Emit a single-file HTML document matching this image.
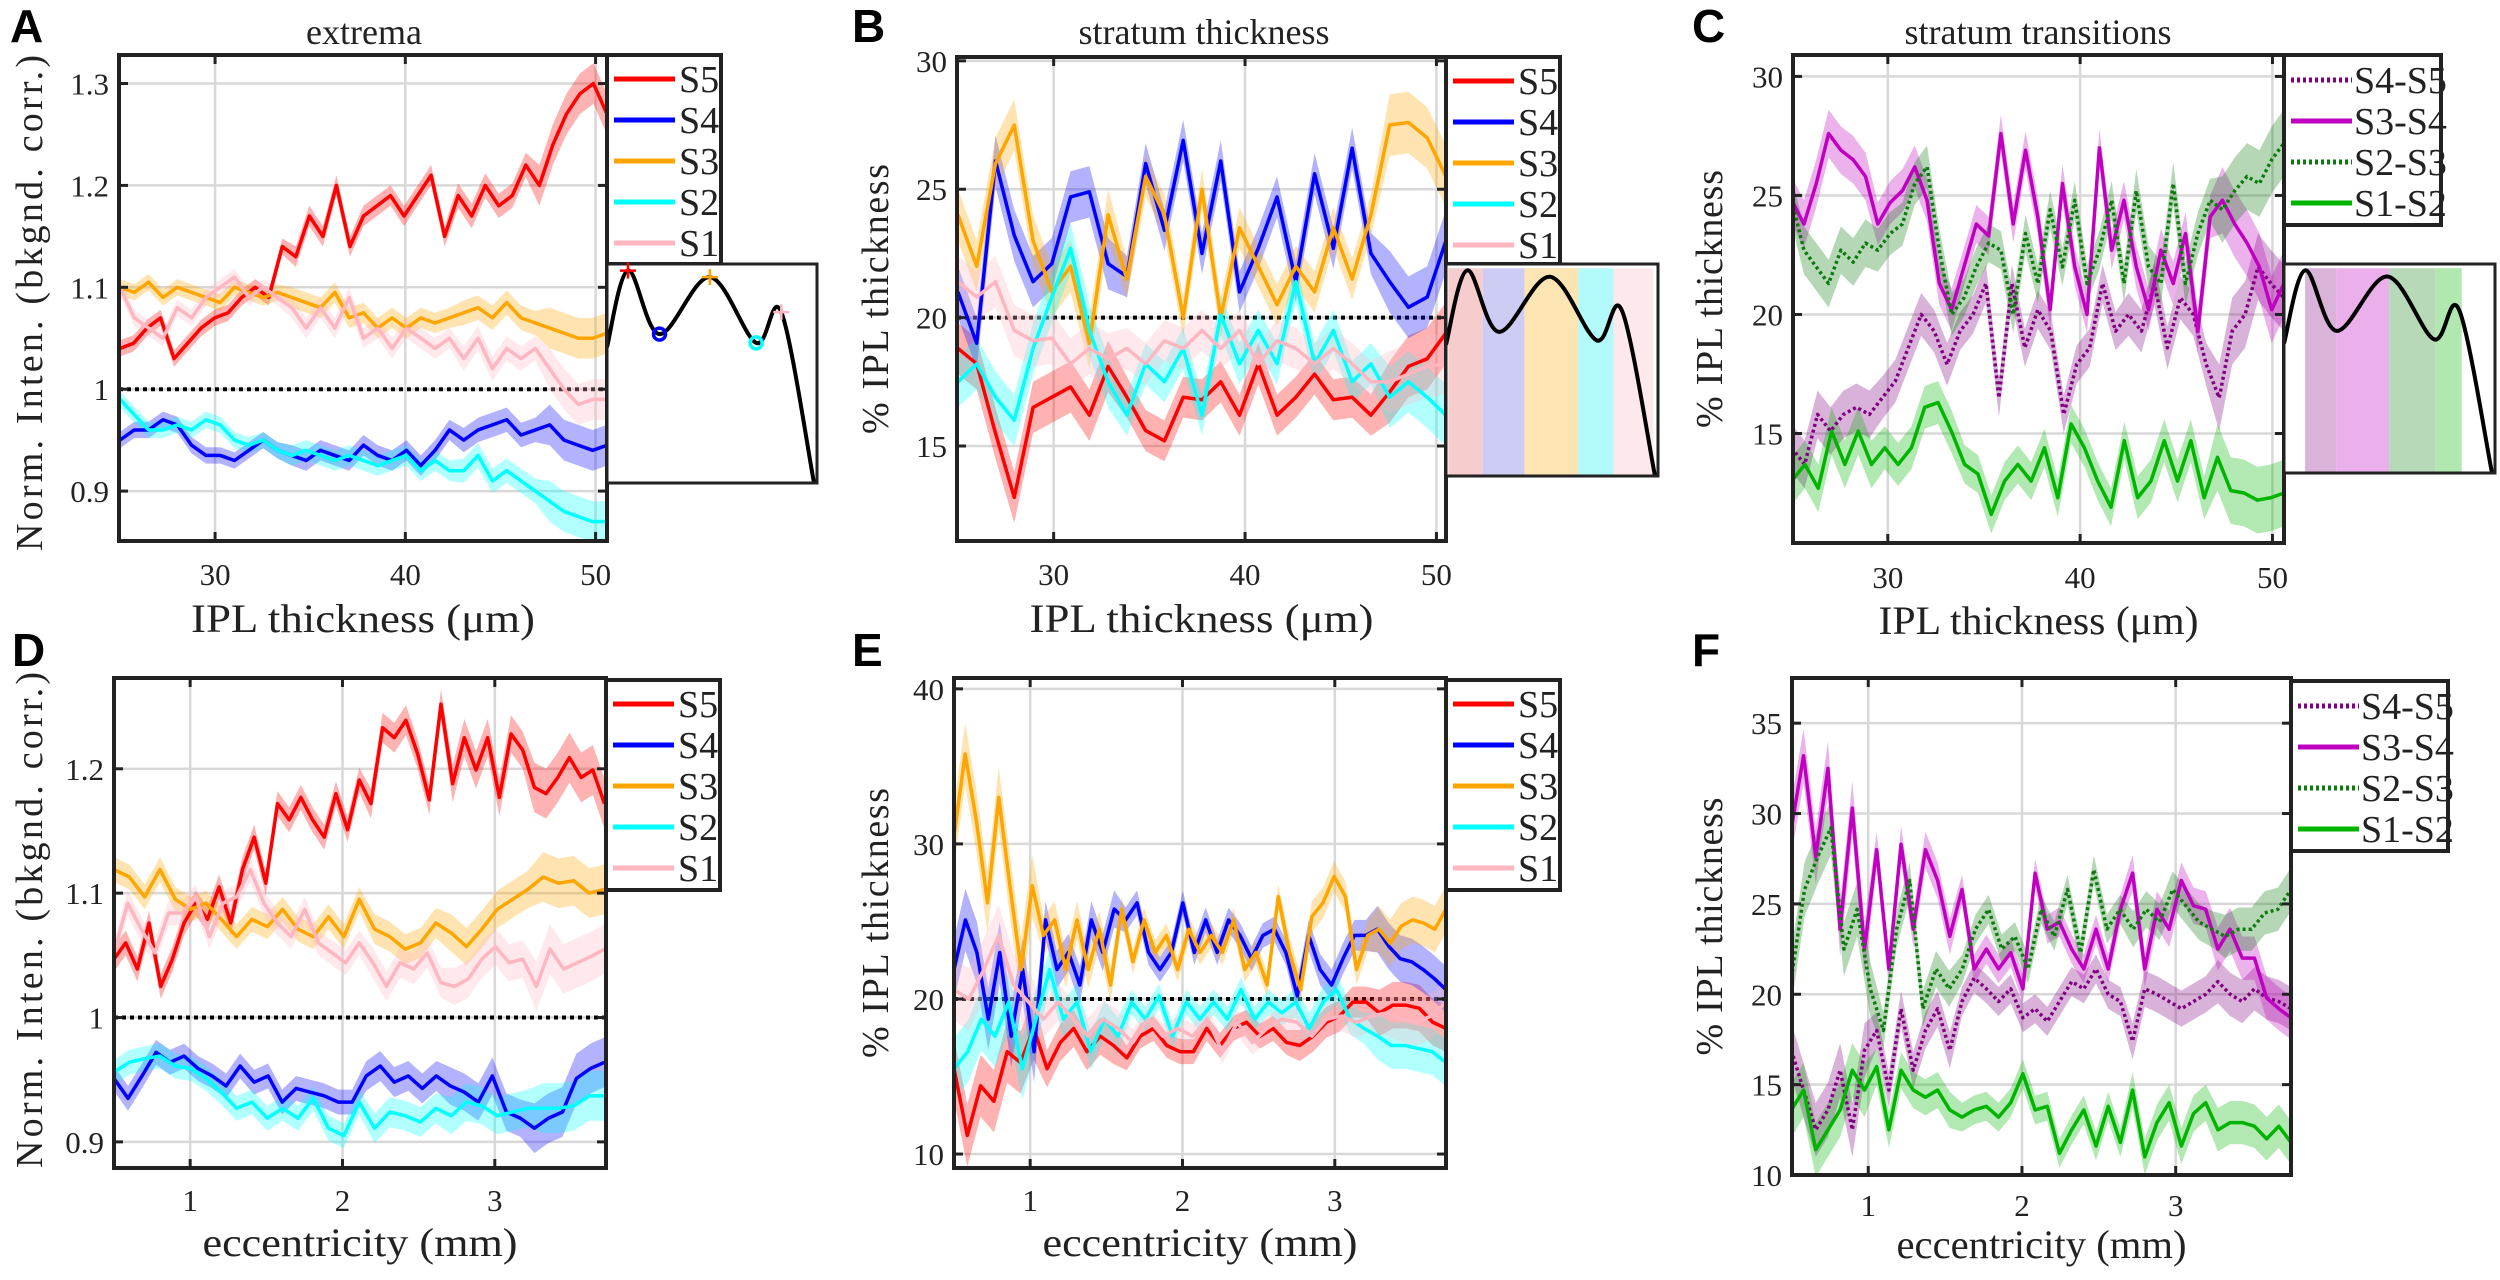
<!DOCTYPE html>
<html><head><meta charset="utf-8"><title>Strata figure</title>
<style>
html,body{margin:0;padding:0;background:#fff;}
svg text{font-family:"Liberation Serif",serif;fill:#222;}
.plabel{font-family:"Liberation Sans",sans-serif;font-weight:bold;font-size:46px;fill:#000;}
</style></head>
<body>
<svg id="fig" xmlns="http://www.w3.org/2000/svg" width="2500" height="1275" viewBox="0 0 2500 1275"></svg>
<script>
// ---------- data ----------
const A_xRange=[25,50.6];
const A_S5=[1.04,1.045,1.06,1.07,1.03,1.045,1.06,1.07,1.075,1.09,1.10,1.09,1.14,1.13,1.17,1.15,1.20,1.14,1.17,1.18,1.19,1.17,1.19,1.21,1.15,1.19,1.17,1.20,1.18,1.19,1.22,1.20,1.24,1.27,1.29,1.30,1.27];
const A_S4=[0.95,0.96,0.96,0.97,0.965,0.945,0.935,0.935,0.93,0.94,0.95,0.94,0.935,0.93,0.94,0.935,0.93,0.945,0.935,0.93,0.94,0.925,0.94,0.96,0.95,0.96,0.965,0.97,0.955,0.96,0.965,0.95,0.945,0.94,0.945];
const A_S3=[1.10,1.095,1.105,1.09,1.10,1.095,1.09,1.085,1.10,1.095,1.09,1.095,1.09,1.085,1.08,1.095,1.07,1.075,1.06,1.07,1.06,1.07,1.065,1.07,1.075,1.08,1.07,1.085,1.07,1.065,1.06,1.055,1.05,1.05,1.055];
const A_S2=[0.99,0.975,0.96,0.96,0.965,0.96,0.97,0.965,0.95,0.945,0.95,0.94,0.935,0.94,0.935,0.93,0.935,0.93,0.925,0.93,0.935,0.92,0.93,0.92,0.92,0.935,0.91,0.92,0.91,0.90,0.89,0.88,0.875,0.87,0.87];
const A_S1=[1.10,1.07,1.06,1.05,1.08,1.07,1.09,1.10,1.11,1.09,1.10,1.09,1.08,1.06,1.08,1.06,1.09,1.05,1.06,1.04,1.06,1.05,1.04,1.05,1.03,1.05,1.02,1.04,1.03,1.04,1.02,1.00,0.985,0.99,0.99];
const A_yTicks=[0.9,1,1.1,1.2,1.3];
const A_yTickLabels=["0.9","1","1.1","1.2","1.3"];
const A_xTicks=[30,40,50];

const B_xRange=[25,50.5];
const B_S5=[18.8,18.2,15.5,13.0,16.5,16.9,17.3,16.2,18.1,16.9,15.6,15.2,16.9,16.8,17.5,16.2,18.2,16.2,16.9,17.8,16.8,16.9,16.2,17.1,18.1,18.4,19.4];
const B_S4=[21,19,26.1,23.2,21.4,22.1,24.7,24.9,22.1,21.6,26,23.4,26.9,22.5,26.1,21,22.7,24.7,21.4,25.6,22.7,26.6,22.5,21.4,20.4,20.8,23.0];
const B_S3=[24,22,26,27.5,23,21,22,19,24,21.5,25.5,24,20,25,20,23.5,22,20.5,22,21,23.5,21.5,24,27.5,27.6,27,25.5];
const B_S2=[17.5,18.2,16.9,16.0,18.8,20.8,22.7,19.5,17.5,16.2,18.2,17.5,18.8,16.2,20.1,18.2,19.5,18.2,21.4,18.2,19.5,17.5,18.2,16.9,17.5,16.9,16.2];
const B_S1=[21.4,20.8,21.4,19.5,19.1,19.2,18.2,18.8,18.4,18.8,18.2,19.1,18.8,19.5,18.8,19.5,18.2,19.1,18.8,18.2,18.8,18.2,17.5,17.5,17.8,18.1,18.2];
const B_yTicks=[15,20,25,30];

const C_xRange=[25,50.6];
const C_S45=[14.4,13.7,15.8,15.1,15.8,16.1,15.8,16.5,17.2,18.6,20.0,19.3,17.9,19.3,20.0,21.3,16.5,21.3,18.6,20.2,19.3,15.8,17.9,18.6,21.3,19.3,20.0,19.3,21.3,18.6,20.7,20.0,17.9,16.5,19.3,20.0,22.0,21.3,20.7];
const C_S34=[24.8,23.8,25.5,27.6,26.9,26.5,25.8,23.8,24.7,25.2,26.2,24.8,21.3,20.2,22.0,23.8,23.3,27.6,23.8,26.9,24.1,20.2,25.5,22.0,20.0,27.0,22.7,24.8,22.0,20.2,22.7,21.3,23.4,19.3,24.1,24.8,23.8,23.0,22.0,20.2,21.3];
const C_S23=[24.8,22.7,22.0,21.3,22.7,22.2,23.0,22.7,23.4,23.8,25.5,26.2,22.7,20.0,20.7,22.0,23.0,22.7,20.0,23.4,21.3,24.4,22.0,24.8,21.3,22.7,24.8,21.3,25.2,22.0,21.3,25.5,21.3,23.4,24.8,24.4,25.2,25.8,25.5,26.5,27.2];
const C_S12=[13.0,13.7,12.7,15.1,13.7,15.1,13.7,14.4,13.7,14.4,16.1,16.3,15.1,13.7,13.3,11.6,13.0,13.7,13.0,14.4,12.3,15.4,14.4,13.0,11.9,14.7,12.3,13.0,14.7,13.0,14.7,12.3,14.0,12.6,12.5,12.2,12.3,12.5];

const D_xRange=[0.5,3.72];
const D_S5=[1.047,1.060,1.039,1.076,1.025,1.047,1.076,1.092,1.079,1.105,1.076,1.119,1.145,1.108,1.172,1.159,1.177,1.159,1.145,1.180,1.151,1.191,1.172,1.233,1.225,1.239,1.212,1.175,1.252,1.188,1.225,1.199,1.225,1.177,1.228,1.215,1.185,1.180,1.193,1.209,1.193,1.199,1.172];
const D_S4=[0.951,0.935,0.953,0.972,0.964,0.969,0.959,0.953,0.945,0.961,0.948,0.953,0.932,0.943,0.940,0.937,0.932,0.932,0.953,0.961,0.948,0.953,0.943,0.953,0.945,0.940,0.932,0.953,0.924,0.919,0.911,0.919,0.924,0.951,0.959,0.964];
const D_S3=[1.119,1.113,1.097,1.119,1.095,1.087,1.092,1.079,1.065,1.079,1.073,1.087,1.071,1.065,1.081,1.065,1.095,1.071,1.065,1.055,1.060,1.076,1.068,1.057,1.071,1.087,1.095,1.103,1.113,1.108,1.110,1.100,1.103];
const D_S2=[0.956,0.964,0.967,0.969,0.961,0.959,0.951,0.940,0.927,0.932,0.919,0.927,0.919,0.935,0.911,0.905,0.932,0.911,0.924,0.921,0.916,0.927,0.921,0.932,0.929,0.921,0.924,0.927,0.927,0.927,0.929,0.937,0.937];
const D_S1=[1.052,1.092,1.071,1.052,1.084,1.084,1.097,1.065,1.092,1.097,1.119,1.092,1.076,1.065,1.087,1.060,1.052,1.044,1.060,1.044,1.025,1.044,1.039,1.052,1.028,1.025,1.031,1.047,1.057,1.044,1.047,1.025,1.055,1.039,1.044,1.049,1.055];
const D_yTicks=[0.9,1,1.1,1.2];
const D_yTickLabels=["0.9","1","1.1","1.2"];
const D_xTicks=[1,2,3];

const E_xRange=[0.5,3.73];
const E_S5=[15.5,11.2,14.4,13.4,16.6,15.9,18.1,15.5,17.2,18.1,16.6,17.6,17.0,16.2,17.6,18.1,17.0,16.6,16.6,18.1,17.0,18.1,18.5,17.6,18.1,17.2,17.0,17.6,18.5,18.9,19.8,19.8,19.1,19.6,19.6,19.4,18.5,18.1];
const E_S4=[21.9,25.1,23.0,18.7,23.0,17.6,21.9,16.6,25.1,21.9,23.0,20.9,25.1,23.0,25.8,25.1,26.2,23.0,21.9,23.0,26.2,23.0,25.1,23.0,25.1,24.1,22.6,24.1,24.5,23.0,20.2,24.1,21.9,20.9,22.6,24.1,24.1,24.5,23.4,22.6,22.4,21.9,21.3,20.6];
const E_S3=[30.5,35.8,31.5,26.2,33.0,27.3,21.9,27.3,24.1,25.1,21.9,25.1,21.9,24.5,20.9,25.8,22.4,25.1,23.0,24.1,21.9,24.5,23.0,24.1,23.0,25.1,21.9,23.0,20.9,26.6,23.0,20.6,25.3,26.2,27.9,26.6,21.9,24.1,24.5,23.6,24.7,25.1,24.9,24.5,25.8];
const E_S2=[15.5,16.6,18.7,17.6,19.8,15.5,18.7,21.9,18.7,19.8,16.6,18.7,17.6,19.8,18.7,20.2,17.6,19.8,18.7,19.8,18.7,20.6,18.7,19.8,19.1,19.8,18.1,19.8,20.6,18.7,18.1,17.6,17.0,17.0,16.8,16.6,15.9];
const E_S1=[20.6,20.0,21.9,24.1,20.9,19.8,18.7,19.8,18.7,17.6,18.7,18.1,17.2,18.7,17.6,18.1,17.6,18.7,16.6,18.5,17.2,18.1,18.7,18.5,17.6,18.7,18.9,18.5,18.9,19.1,18.7,18.5,18.9,19.8];
const E_yTicks=[10,20,30,40];

const F_xRange=[0.5,3.75];
const F_S45=[16.9,14.7,12.5,13.6,15.8,12.5,16.9,18.0,14.7,19.2,15.8,18.0,19.2,16.9,19.6,20.9,20.3,19.6,20.3,18.7,19.2,18.5,19.6,20.7,20.3,21.4,20.0,19.6,17.4,20.3,20.0,19.6,19.2,19.6,20.0,20.7,20.0,19.6,20.3,19.8,19.6,19.2];
const F_S34=[29.2,33.2,27.6,32.5,23.6,30.3,22.5,28.0,21.4,28.3,23.6,28.0,26.3,23.2,25.8,21.4,22.5,21.4,22.3,20.3,26.7,23.6,24.0,22.5,21.4,23.6,21.4,24.7,26.7,21.4,24.7,23.6,26.3,24.9,24.7,22.5,23.6,22.0,22.0,19.8,19.2,18.7];
const F_S23=[20.9,25.8,27.6,29.2,22.5,24.7,20.3,18.0,23.6,26.3,19.2,21.4,20.3,21.4,23.6,24.7,22.5,23.2,21.4,24.7,23.2,25.8,22.3,26.9,23.6,24.7,23.6,24.7,24.0,25.8,24.9,24.0,23.6,23.2,23.6,23.6,24.5,24.7,25.8];
const F_S12=[13.6,14.7,11.4,12.5,13.6,15.8,14.7,16.0,12.5,15.8,14.7,14.3,14.7,13.6,13.2,13.6,13.8,13.2,14.0,15.6,13.6,13.8,11.2,12.5,13.6,11.6,13.8,11.8,14.7,11.0,12.9,14.0,11.6,13.4,14.0,12.5,12.9,12.9,12.7,12.0,12.7,11.8];
const F_yTicks=[10,15,20,25,30,35];

// band half-widths (shaded error), sampled across the x-range
const errA=[0.008,0.008,0.01,0.01,0.012,0.02];
const errB=[1.0,1.0,0.8,0.8,0.8,1.2];
const errC=[1.0,0.9,0.8,0.8,0.9,1.4];
const errD=[0.01,0.01,0.01,0.012,0.015,0.02];
const errE=[2.0,1.2,0.8,0.8,1.0,1.5];
const errF=[1.5,1.0,0.8,0.8,1.0,1.2];

const COL={S5:'#ff0000',S4:'#0000ff',S3:'#ffa500',S2:'#00ffff',S1:'#ffb6c1',
 S45:'#800080',S34:'#c000c0',S23:'#0d7a0d',S12:'#00b400'};

const NS='http://www.w3.org/2000/svg';
const svg=document.getElementById('fig');
function el(tag,attrs,parent){const e=document.createElementNS(NS,tag);for(const k in attrs)e.setAttribute(k,attrs[k]);(parent||svg).appendChild(e);return e;}
function txt(s,attrs,parent){const t=el('text',attrs,parent);t.textContent=s;return t;}

let clipId=0;
function panel(P){
  const g=el('g',{});
  
  
  const sx=v=>P.L+(v-P.xmin)/(P.xmax-P.xmin)*(P.R-P.L);
  const sy=v=>P.B-(v-P.ymin)/(P.ymax-P.ymin)*(P.B-P.T);
  P.xTicks.forEach(t=>{
    const l=el('line',{x1:sx(t),x2:sx(t),y1:P.T,y2:P.B,stroke:'#d8d8d8','stroke-width':2.5},g);
    
    
  });
  P.yTicks.forEach(t=>{
    const l=el('line',{x1:P.L,x2:P.R,y1:sy(t),y2:sy(t),stroke:'#d8d8d8','stroke-width':2.5},g);
    
    
  });
  clipId++;
  const cp=el('clipPath',{id:'cp'+clipId},g);
  el('rect',{x:P.L,y:P.T,width:P.R-P.L,height:P.B-P.T},cp);
  const plot=el('g',{'clip-path':'url(#cp'+clipId+')'},g);
  if(P.refLine!==undefined){
    const r=el('line',{x1:P.L,x2:P.R,y1:sy(P.refLine),y2:sy(P.refLine),stroke:'#000','stroke-width':4,'stroke-dasharray':'4 4'},plot);
    
    
  }
  P.series.forEach(s=>{
    const n=s.vals.length;
    const xs=s.vals.map((v,i)=>P.xr[0]+(P.xr[1]-P.xr[0])*i/(n-1));
    const errAt=i=>P.err[Math.min(P.err.length-1,Math.floor(i/n*P.err.length))];
    let up=[],dn=[];
    s.vals.forEach((v,i)=>{up.push(sx(xs[i])+','+sy(v+errAt(i)));dn.unshift(sx(xs[i])+','+sy(v-errAt(i)));});
    const band=el('polygon',{points:up.concat(dn).join(' '),fill:s.color,'fill-opacity':0.3,stroke:'none'},plot);
    
    
  });
  P.series.forEach(s=>{
    const n=s.vals.length;
    const pts=s.vals.map((v,i)=>sx(P.xr[0]+(P.xr[1]-P.xr[0])*i/(n-1))+','+sy(v)).join(' ');
    const a={points:pts,fill:'none',stroke:s.color,'stroke-width':3.5,'stroke-linejoin':'round'};
    if(s.dot)a['stroke-dasharray']='3 3';
    const line=el('polyline',a,plot);
    
    
  });
  const box=el('rect',{x:P.L,y:P.T,width:P.R-P.L,height:P.B-P.T,fill:'none',stroke:'#222','stroke-width':4},g);
  
  
  P.xTicks.forEach(t=>{
    el('line',{x1:sx(t),x2:sx(t),y1:P.B,y2:P.B-9,stroke:'#222','stroke-width':3},g);
    el('line',{x1:sx(t),x2:sx(t),y1:P.T,y2:P.T+9,stroke:'#222','stroke-width':3},g);
    const tl=txt(String(t),{x:sx(t),y:P.xTickY,'text-anchor':'middle','font-size':31},g);
    
    
  });
  P.yTicks.forEach((t,i)=>{
    el('line',{x1:P.L,x2:P.L+9,y1:sy(t),y2:sy(t),stroke:'#222','stroke-width':3},g);
    el('line',{x1:P.R,x2:P.R-9,y1:sy(t),y2:sy(t),stroke:'#222','stroke-width':3},g);
    const lab=P.yLabels?P.yLabels[i]:String(t);
    const tl=txt(lab,{x:P.L-10,y:sy(t)+11,'text-anchor':'end','font-size':31},g);
    
    
  });
  const xl=txt(P.xLabel,{x:(P.L+P.R)/2,y:P.xLabelY,'text-anchor':'middle','font-size':40,textLength:P.xLabelLen,lengthAdjust:'spacingAndGlyphs'},g);
  
  
  const cy=P.yLabelCy||(P.T+P.B)/2;
  const yl=txt(P.yLabel,{x:0,y:0,'text-anchor':'middle','font-size':38,textLength:P.yLabelLen,lengthAdjust:'spacing',transform:'translate('+P.yLabelX+','+cy+') rotate(-90)'},g);
  
  
  const Lg=P.legend;
  const lg=el('g',{},g);
  
  
  el('rect',{x:Lg.x,y:Lg.y,width:Lg.w,height:Lg.h,fill:'#fff',stroke:'#222','stroke-width':4},lg);
  Lg.order.forEach((s,i)=>{
    const yy=Lg.y+Lg.first+i*Lg.step;
    const a={x1:Lg.x+Lg.lx0,x2:Lg.x+Lg.lx1,y1:yy,y2:yy,stroke:s.color,'stroke-width':5};
    if(s.dot)a['stroke-dasharray']='3 3';
    const ll=el('line',a,lg);
    
    
    const lt=txt(s.label,{x:Lg.x+Lg.tx,y:yy+13,'font-size':38},lg);
    
    
  });
  return g;
}

function ser(key,label,vals,dot){return {key:key,label:label,vals:vals,color:COL[key],dot:!!dot};}

const legS=(x,y,h)=>({x:x,y:y,w:114,h:h,first:24,step:41,lx0:7,lx1:68,tx:72});
const legT=(x,y)=>({x:x,y:y,w:157,h:170,first:25,step:41,lx0:7,lx1:68,tx:70});

(function(){
 const s=[ser('S5','S5',A_S5),ser('S4','S4',A_S4),ser('S3','S3',A_S3),ser('S2','S2',A_S2),ser('S1','S1',A_S1)];
 panel({name:'panel-a',L:119,R:607,T:55,B:541,xmin:24.95,xmax:50.6,ymin:0.851,ymax:1.328,xr:A_xRange,err:errA,
  xTicks:A_xTicks,yTicks:A_yTicks,yLabels:A_yTickLabels,series:s,refLine:1,xTickY:585,xLabel:'IPL thickness (μm)',xLabelY:632,xLabelLen:344,
  yLabel:'Norm.  Inten.  (bkgnd.  corr.)',yLabelX:42,yLabelLen:496,yLabelCy:303,legend:Object.assign(legS(607,55,209),{order:s})});
})();
(function(){
 const s=[ser('S5','S5',B_S5),ser('S4','S4',B_S4),ser('S3','S3',B_S3),ser('S2','S2',B_S2),ser('S1','S1',B_S1)];
 panel({name:'panel-b',L:957,R:1446,T:57,B:541,xmin:24.95,xmax:50.5,ymin:11.3,ymax:30.15,xr:B_xRange,err:errB,
  xTicks:A_xTicks,yTicks:B_yTicks,series:s,refLine:20,xTickY:585,xLabel:'IPL thickness (μm)',xLabelY:632,xLabelLen:344,
  yLabel:'% IPL  thickness',yLabelX:888,yLabelLen:270,legend:Object.assign(legS(1446,57,207),{order:s})});
})();
(function(){
 const s=[ser('S45','S4-S5',C_S45,true),ser('S34','S3-S4',C_S34),ser('S23','S2-S3',C_S23,true),ser('S12','S1-S2',C_S12)];
 panel({name:'panel-c',L:1793,R:2284,T:55,B:543,xmin:25.07,xmax:50.6,ymin:10.4,ymax:30.9,xr:C_xRange,err:errC,
  xTicks:A_xTicks,yTicks:B_yTicks,series:s,xTickY:588,xLabel:'IPL thickness (μm)',xLabelY:634,xLabelLen:320,
  yLabel:'% IPL  thickness',yLabelX:1722,yLabelLen:258,legend:Object.assign(legT(2284,55),{order:s})});
})();
(function(){
 const s=[ser('S5','S5',D_S5),ser('S4','S4',D_S4),ser('S3','S3',D_S3),ser('S2','S2',D_S2),ser('S1','S1',D_S1)];
 panel({name:'panel-d',L:114,R:606,T:678,B:1168,xmin:0.5,xmax:3.73,ymin:0.879,ymax:1.273,xr:D_xRange,err:errD,
  xTicks:D_xTicks,yTicks:D_yTicks,yLabels:D_yTickLabels,series:s,refLine:1,xTickY:1211,xLabel:'eccentricity (mm)',xLabelY:1256,xLabelLen:315,
  yLabel:'Norm.  Inten.  (bkgnd.  corr.)',yLabelX:42,yLabelLen:496,yLabelCy:920,legend:Object.assign(legS(606,680,210),{order:s})});
})();
(function(){
 const s=[ser('S5','S5',E_S5),ser('S4','S4',E_S4),ser('S3','S3',E_S3),ser('S2','S2',E_S2),ser('S1','S1',E_S1)];
 panel({name:'panel-e',L:954,R:1446,T:678,B:1168,xmin:0.5,xmax:3.73,ymin:9.1,ymax:40.7,xr:E_xRange,err:errE,
  xTicks:D_xTicks,yTicks:E_yTicks,series:s,refLine:20,xTickY:1211,xLabel:'eccentricity (mm)',xLabelY:1256,xLabelLen:315,
  yLabel:'% IPL  thickness',yLabelX:888,yLabelLen:270,legend:Object.assign(legS(1446,680,210),{order:s})});
})();
(function(){
 const s=[ser('S45','S4-S5',F_S45,true),ser('S34','S3-S4',F_S34),ser('S23','S2-S3',F_S23,true),ser('S12','S1-S2',F_S12)];
 panel({name:'panel-f',L:1792,R:2291,T:678,B:1175,xmin:0.504,xmax:3.75,ymin:10,ymax:37.5,xr:F_xRange,err:errF,
  xTicks:D_xTicks,yTicks:F_yTicks,series:s,xTickY:1216,xLabel:'eccentricity (mm)',xLabelY:1258,xLabelLen:290,
  yLabel:'% IPL  thickness',yLabelX:1722,yLabelLen:258,legend:Object.assign(legT(2291,681),{order:s})});
})();

// ---------- insets ----------
const curveFx=[0,0.10,0.25,0.49,0.71,0.83,0.985];
const curveFy=[0.38,0.03,0.32,0.06,0.36,0.22,0.995];
function inset(name,x,y,w,h,bands){
  const g=el('g',{});
  
  
  el('rect',{x:x,y:y,width:w,height:h,fill:'#fff'},g);
  bands.forEach(b=>{
    const r=el('rect',{x:x+b[0]*w,y:y+0.02*h,width:(b[1]-b[0])*w,height:0.98*h,fill:b[2]},g);
    
    
  });
  const P=curveFx.map((fx,i)=>[x+fx*w,y+curveFy[i]*h]);
  let d='M'+P[0][0]+','+P[0][1];
  for(let i=0;i<P.length-1;i++){
    const p0=P[Math.max(0,i-1)],p1=P[i],p2=P[i+1],p3=P[Math.min(P.length-1,i+2)];
    const c1=[p1[0]+(p2[0]-p0[0])/6,p1[1]+(p2[1]-p0[1])/6];
    const c2=[p2[0]-(p3[0]-p1[0])/6,p2[1]-(p3[1]-p1[1])/6];
    d+=' C'+c1[0]+','+c1[1]+' '+c2[0]+','+c2[1]+' '+p2[0]+','+p2[1];
  }
  const c=el('path',{d:d,fill:'none',stroke:'#000','stroke-width':4},g);
  
  
  el('rect',{x:x,y:y,width:w,height:h,fill:'none',stroke:'#222','stroke-width':3},g);
  return {g:g,P:P};
}
(function(){
  const r=inset('inset-extrema',607,264,210,219,[]);
  const marks=[[1,'+','#ff0000'],[3,'+','#ffa500'],[5,'+','#ffb6c1'],[2,'o','#0000ff'],[4,'o','#00ffff']];
  marks.forEach(m=>{
    const p=r.P[m[0]];
    if(m[1]==='+'){
      const a=el('path',{d:'M'+(p[0]-8)+','+p[1]+' h16 M'+p[0]+','+(p[1]-8)+' v16',stroke:m[2],'stroke-width':2.5},r.g);
      
      
    } else {
      const a=el('circle',{cx:p[0],cy:p[1],r:6,fill:'none',stroke:m[2],'stroke-width':3.5},r.g);
      
      
    }
  });
})();
inset('inset-strata-b',1446,264,212,212,[[0.011,0.174,'#f7cccc'],[0.174,0.37,'#ccccf5'],[0.37,0.624,'#fce4b3'],[0.624,0.79,'#b3fafa'],[0.79,0.978,'#fde8ec']]);
inset('inset-strata-c',2284,264,211,209,[[0.10,0.248,'#d9b3d9'],[0.248,0.498,'#ebb0eb'],[0.498,0.719,'#b8d9b8'],[0.719,0.842,'#b0e8b0']]);

// ---------- titles & panel letters ----------
[['extrema',364],['stratum thickness',1204],['stratum transitions',2038]].forEach(t=>{
  const e=txt(t[0],{x:t[1],y:44,'text-anchor':'middle','font-size':36});
  
  
});
[['A',10,42],['B',852,42],['C',1692,42],['D',12,666],['E',852,666],['F',1692,666]].forEach(t=>{
  const e=txt(t[0],{x:t[1],y:t[2],'class':'plabel'});
  
  
});
</script>
</body></html>
